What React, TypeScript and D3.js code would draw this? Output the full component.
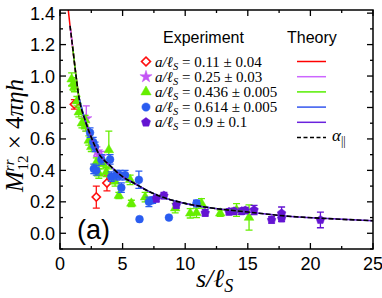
import { useEffect, useRef } from "react";
import * as d3 from "d3";

// theory curve
const thS = [0.62, 0.8, 1.0, 1.25, 1.5, 2.0, 2.5, 3.0, 4.0, 5.0, 6.0, 7.0, 8.0, 10, 12, 15, 18, 21, 25];
const thV = [1.45, 1.32, 1.19, 1.02, 0.87, 0.72, 0.61, 0.52, 0.43, 0.36, 0.315, 0.27, 0.235, 0.19, 0.162, 0.135, 0.11, 0.095, 0.08];

// [s, value, error]
const red011: [number, number, number][] = [
  [1.15, 0.82, 0.03], [2.9, 0.23, 0.07], [3.75, 0.32, 0.05],
];
const violet025: [number, number, number][] = [
  [2.1, 0.73, 0.08], [2.95, 0.52, 0.03], [3.3, 0.49, 0.03],
];
const green0436: [number, number, number][] = [
  [0.93, 0.98, 0.04], [1.05, 0.95, 0.04], [1.15, 0.93, 0.03], [1.35, 0.84, 0.03],
  [1.5, 0.77, 0.03], [1.75, 0.7, 0.03], [2.0, 0.72, 0.03], [2.05, 0.68, 0.03],
  [2.3, 0.59, 0.03], [2.5, 0.55, 0.03], [2.9, 0.45, 0.03], [3.1, 0.38, 0.03],
  [3.45, 0.44, 0.03], [3.7, 0.39, 0.03], [3.9, 0.53, 0.12], [4.4, 0.33, 0.03],
  [4.7, 0.24, 0.02], [5.6, 0.34, 0.03], [5.7, 0.19, 0.02], [6.8, 0.23, 0.03],
  [9.2, 0.16, 0.03], [10.4, 0.127, 0.03], [10.9, 0.13, 0.03], [11.3, 0.19, 0.03],
  [12.8, 0.127, 0.02], [14.1, 0.148, 0.04], [15.1, 0.1, 0.08],
];
const blue0614: [number, number, number][] = [
  [2.4, 0.64, 0.03], [2.65, 0.58, 0.03], [2.8, 0.55, 0.03], [2.7, 0.41, 0.03],
  [2.9, 0.4, 0.03], [3.3, 0.47, 0.03], [4.0, 0.47, 0.03], [4.1, 0.36, 0.03],
  [4.5, 0.37, 0.03], [4.8, 0.37, 0.03], [5.2, 0.37, 0.03], [4.9, 0.29, 0.03],
  [6.3, 0.34, 0.055], [6.35, 0.09, 0], [7.1, 0.2, 0.03], [7.4, 0.21, 0.02],
  [8.7, 0.1, 0], [10.9, 0.19, 0.02],
];
const purple09: [number, number, number][] = [
  [7.7, 0.22, 0.02], [8.3, 0.24, 0.02], [9.3, 0.18, 0.02], [11.6, 0.13, 0.02],
  [13.5, 0.137, 0.02], [13.9, 0.14, 0.02], [14.5, 0.14, 0.02], [14.8, 0.145, 0.02],
  [15.5, 0.148, 0.03], [16.9, 0.085, 0.02], [17.7, 0.127, 0.04], [17.7, 0.095, 0.02],
  [20.8, 0.085, 0.05],
];

const legendLabels = ["0.11 ± 0.04", "0.25 ± 0.03", "0.436 ± 0.005", "0.614 ± 0.005", "0.9 ± 0.1"];

const symbolPentagon = {
  draw(ctx: any, size: number) {
    const r = Math.sqrt(size / 2.378);
    for (let i = 0; i < 5; i++) {
      const a = -Math.PI / 2 + (i * 2 * Math.PI) / 5;
      const x = r * Math.cos(a);
      const y = r * Math.sin(a);
      if (i === 0) ctx.moveTo(x, y);
      else ctx.lineTo(x, y);
    }
    ctx.closePath();
  },
};

export default function App() {
  const svgRef = useRef<SVGSVGElement>(null);

  useEffect(() => {
    if (!svgRef.current) return;
    const W = 382;
    const H = 298;
    const svg = d3.select(svgRef.current);
    svg.selectAll("*").remove();
    svg.attr("width", W).attr("height", H).attr("viewBox", `0 0 ${W} ${H}`);

    const x = d3.scaleLinear().domain([0, 25]).range([60, 373]);
    const y = d3.scaleLinear().domain([-0.1, 1.42]).range([249, 10]);

    const sans = "'Liberation Sans', Arial, Helvetica, sans-serif";
    const serif = "'Liberation Serif', 'Times New Roman', serif";

    svg.append("defs").append("clipPath").attr("id", "plotclip")
      .append("rect").attr("x", 60).attr("y", 10).attr("width", 313).attr("height", 239);

    const series = [
      { data: red011, color: "#ff1010", sym: "diamond", line: "#ff0000", from: 0.6, to: 4 },
      { data: violet025, color: "#c455f5", sym: "star", line: "#cc66ff", from: 0.75, to: 6 },
      { data: green0436, color: "#66ee00", sym: "triangle", line: "#55ee00", from: 0.9, to: 16 },
      { data: blue0614, color: "#2a5cf0", sym: "circle", line: "#3355ee", from: 1.3, to: 12 },
      { data: purple09, color: "#6414d2", sym: "pentagon", line: "#6a22dd", from: 2.0, to: 25 },
    ];

    const symOf = (name: string, size: number) => {
      const t =
        name === "diamond" ? d3.symbolSquare
        : name === "star" ? d3.symbolStar
        : name === "triangle" ? d3.symbolTriangle
        : name === "circle" ? d3.symbolCircle
        : (symbolPentagon as any);
      return d3.symbol().type(t).size(size)();
    };
    const sizeOf = (name: string) =>
      name === "diamond" ? 34 : name === "star" ? 40 : name === "triangle" ? 40 : name === "circle" ? 48 : 48;

    const plot = svg.append("g").attr("clip-path", "url(#plotclip)");

    // data points with error bars
    series.forEach((se) => {
      const g = plot.append("g");
      const withErr = se.data.filter((d) => d[2] > 0);
      g.selectAll(".eb").data(withErr).enter().append("path")
        .attr("d", (d) => {
          const cx = x(d[0]);
          const t = y(d[1] + d[2]);
          const b = y(d[1] - d[2]);
          return `M${cx},${t}V${b}M${cx - 3.5},${t}H${cx + 3.5}M${cx - 3.5},${b}H${cx + 3.5}`;
        })
        .attr("fill", "none").attr("stroke", se.color).attr("stroke-width", 1.3);
      g.selectAll(".pt").data(se.data).enter().append("path")
        .attr("d", symOf(se.sym, sizeOf(se.sym)) as string)
        .attr("transform", (d) => `translate(${x(d[0])},${y(d[1])})${se.sym === "diamond" ? " rotate(45)" : ""}`)
        .attr("fill", se.sym === "diamond" ? "white" : se.color)
        .attr("stroke", se.color)
        .attr("stroke-width", se.sym === "diamond" ? 1.6 : 0.5);
    });

    // theory curves
    const thPts = thS.map((s, i) => [s, thV[i]] as [number, number]);
    const line = d3.line<[number, number]>().x((d) => x(d[0])).y((d) => y(d[1])).curve(d3.curveMonotoneX);
    series.forEach((se) => {
      plot.append("path")
        .datum(thPts.filter((d) => d[0] >= se.from && d[0] <= se.to))
        .attr("d", line)
        .attr("fill", "none").attr("stroke", se.line).attr("stroke-width", 1.5);
    });
    plot.append("path")
      .datum(thPts.filter((d) => d[0] >= 0.75))
      .attr("d", line)
      .attr("fill", "none").attr("stroke", "black").attr("stroke-width", 1.6)
      .attr("stroke-dasharray", "5,2");

    // frame
    svg.append("rect").attr("x", 60).attr("y", 10).attr("width", 313).attr("height", 239)
      .attr("fill", "none").attr("stroke", "black").attr("stroke-width", 1.5);

    // ticks (inward, mirrored)
    const yMajor = d3.range(0, 1.41, 0.2);
    const yMinor = d3.range(-0.1, 1.41, 0.2);
    const xMajor = d3.range(0, 25.1, 5);
    const xMinor = d3.range(2.5, 25, 5);
    const tk = svg.append("g").attr("stroke", "black").attr("stroke-width", 1.3);
    yMajor.forEach((v) => {
      tk.append("line").attr("x1", 60).attr("x2", 66).attr("y1", y(v)).attr("y2", y(v));
      tk.append("line").attr("x1", 373).attr("x2", 367).attr("y1", y(v)).attr("y2", y(v));
    });
    yMinor.forEach((v) => {
      tk.append("line").attr("x1", 60).attr("x2", 63).attr("y1", y(v)).attr("y2", y(v));
      tk.append("line").attr("x1", 373).attr("x2", 370).attr("y1", y(v)).attr("y2", y(v));
    });
    xMajor.forEach((v) => {
      tk.append("line").attr("x1", x(v)).attr("x2", x(v)).attr("y1", 249).attr("y2", 243);
      tk.append("line").attr("x1", x(v)).attr("x2", x(v)).attr("y1", 10).attr("y2", 16);
    });
    xMinor.forEach((v) => {
      tk.append("line").attr("x1", x(v)).attr("x2", x(v)).attr("y1", 249).attr("y2", 246);
      tk.append("line").attr("x1", x(v)).attr("x2", x(v)).attr("y1", 10).attr("y2", 13);
    });

    // tick labels
    svg.append("g").selectAll("text").data(yMajor).enter().append("text")
      .attr("x", 55).attr("y", (d) => y(d)).attr("dy", "0.36em")
      .attr("text-anchor", "end").attr("font-family", sans).attr("font-size", 18)
      .text((d) => d3.format(".1f")(d));
    svg.append("g").selectAll("text").data(xMajor).enter().append("text")
      .attr("x", (d) => x(d)).attr("y", 270)
      .attr("text-anchor", "middle").attr("font-family", sans).attr("font-size", 18)
      .text((d) => String(d));

    // axis titles
    const xl = svg.append("text").attr("x", 196).attr("y", 287)
      .attr("font-family", serif).attr("font-size", 26).attr("font-style", "italic");
    xl.append("tspan").text("s/ℓ");
    xl.append("tspan").attr("font-size", 18).attr("dy", 5).text("S");

    const yl = svg.append("text").attr("transform", "translate(23,192) rotate(-90)")
      .attr("font-family", serif).attr("font-size", 25);
    yl.append("tspan").attr("font-style", "italic").text("M");
    yl.append("tspan").attr("font-size", 15).attr("font-style", "italic").attr("dy", -9).text("rr");
    yl.append("tspan").attr("font-size", 15).attr("dx", -11).attr("dy", 14).text("12");
    yl.append("tspan").attr("dy", -5).text(" × 4");
    yl.append("tspan").attr("font-style", "italic").text("πηh");

    // panel label
    svg.append("text").attr("x", 77).attr("y", 239)
      .attr("font-family", sans).attr("font-size", 27).text("(a)");

    // legend
    svg.append("text").attr("x", 163).attr("y", 43).attr("font-family", sans).attr("font-size", 16).text("Experiment");
    svg.append("text").attr("x", 287).attr("y", 43).attr("font-family", sans).attr("font-size", 16).text("Theory");
    const rowY = d3.scaleLinear().domain([0, 5]).range([61.5, 137.5]);
    series.forEach((se, i) => {
      const cy = rowY(i);
      svg.append("path")
        .attr("d", symOf(se.sym, sizeOf(se.sym) + 6) as string)
        .attr("transform", `translate(146,${cy})${se.sym === "diamond" ? " rotate(45)" : ""}`)
        .attr("fill", se.sym === "diamond" ? "white" : se.color)
        .attr("stroke", se.color).attr("stroke-width", se.sym === "diamond" ? 1.6 : 0.5);
      const t = svg.append("text").attr("x", 155).attr("y", cy + 5)
        .attr("font-family", serif).attr("font-size", 15);
      t.append("tspan").attr("font-style", "italic").text("a/ℓ");
      t.append("tspan").attr("font-style", "italic").attr("font-size", 10.5).attr("dy", 3).text("S");
      t.append("tspan").attr("dy", -3).text(" = " + legendLabels[i]);
      svg.append("line").attr("x1", 297).attr("x2", 326).attr("y1", cy).attr("y2", cy)
        .attr("stroke", se.line).attr("stroke-width", 1.5);
    });
    const ay = rowY(5);
    svg.append("line").attr("x1", 297).attr("x2", 326).attr("y1", ay).attr("y2", ay)
      .attr("stroke", "black").attr("stroke-width", 1.3).attr("stroke-dasharray", "4,2.5");
    const at = svg.append("text").attr("x", 332).attr("y", ay + 3)
      .attr("font-family", serif).attr("font-size", 17).attr("font-style", "italic");
    at.append("tspan").text("α");
    at.append("tspan").attr("font-size", 12).attr("font-style", "normal").attr("dy", 4).text("||");
  }, []);

  return (
    <div style={{ position: "absolute", left: 0, top: 0, width: 382, height: 298 }}>
      <svg ref={svgRef} style={{ display: "block", background: "white" }} />
    </div>
  );
}
